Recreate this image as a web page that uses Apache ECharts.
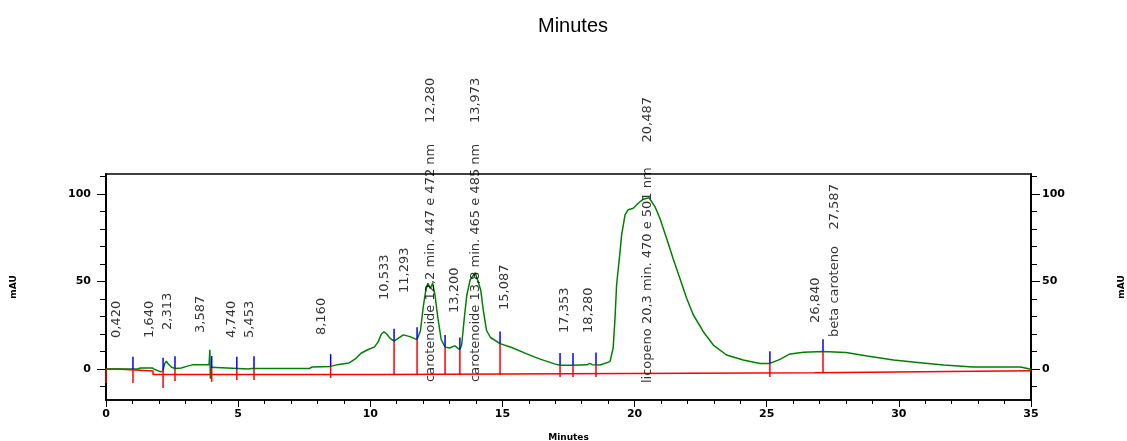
<!DOCTYPE html>
<html>
<head>
<meta charset="utf-8">
<script src="https://cdn.jsdelivr.net/npm/echarts@6/dist/echarts.min.js"></script>
<style>
  html, body { margin: 0; padding: 0; background: #fff; }
  #chart { width: 1127px; height: 441px; }
</style>
</head>
<body>
<div id="chart"></div>
<script>
// chromatogram trace (green), minutes / mAU
const traceMinutes = [
  0.00, 0.42, 1.20, 1.30, 1.75, 1.85, 2.05, 2.15, 2.22, 2.28, 2.35, 2.48, 2.62, 2.85, 3.05, 3.30,
  3.90, 3.93, 3.95, 3.97, 4.02, 5.40, 5.50, 7.70, 7.80, 8.50, 8.75, 9.20, 9.45, 9.65, 9.90, 10.15,
  10.30, 10.42, 10.52, 10.62, 10.75, 10.90, 11.05, 11.25, 11.50, 11.77, 11.90, 12.00, 12.10, 12.18,
  12.27, 12.36, 12.45, 12.55, 12.68, 12.83, 13.00, 13.20, 13.39, 13.46, 13.55, 13.65, 13.78, 13.97,
  14.08, 14.18, 14.28, 14.40, 14.55, 14.91, 15.35, 15.90, 16.40, 17.00, 17.18, 17.67, 18.20, 18.30,
  18.40, 18.69, 19.07, 19.19, 19.26, 19.32, 19.45, 19.51, 19.64, 19.76, 19.95, 20.14, 20.33, 20.55,
  20.77, 20.96, 21.21, 21.46, 21.71, 21.97, 22.22, 22.60, 22.98, 23.48, 24.11, 24.74, 25.12, 25.50,
  25.88, 26.40, 27.13, 28.00, 28.80, 29.80, 30.80, 31.70, 32.80, 34.60, 34.95, 35.00
];
const traceMAU = [
  0, 0, 0, 0.6, 0.6, -0.3, -1.5, -1.2, 3, 4.5, 3, 1, 0.3, 0.6, 1.5, 2.5,
  2.5, 11, -5.5, 1, 0, 0, 0.3, 0.3, 1.2, 1.5, 2.5, 3.5, 6, 9, 11, 12.5,
  15.5, 20, 21.3, 20, 17.5, 16, 17.5, 19.5, 18.5, 16.8, 22, 35, 45, 49,
  46, 49, 42, 30, 17, 12.5, 12, 13.2, 11, 14, 28, 42, 51, 55,
  50, 45, 33, 22, 18, 14.5, 12.3, 8.8, 5.8, 2.8, 2.2, 2.2, 2.4, 3.2,
  2.5, 2.3, 4.2, 12, 29, 48, 67, 76.6, 88, 91, 91.8, 94.7, 97, 97.8,
  92.8, 86, 74.7, 63, 52, 40.4, 31, 21.3, 13.7, 8, 5.1, 3.2, 3.2, 5.5,
  8.6, 9.6, 10, 9.4, 7.4, 5.1, 3.6, 2.3, 1.1, 1.1, 0, 0
];

// integration baseline (red)
const baselineMinutes = [0, 0, 0.42, 0.42, 1.78, 1.78, 10.37, 10.37, 26.8, 26.8, 35];
const baselineMAU = [-8, 0, 0, -1.1, -1.1, -3.2, -3.2, -2.1, -2.1, -1, -1];

// peak start/end marks: time and lower end of the red drop line
const markerMinutes = [1.02, 2.16, 2.61, 4.0, 4.95, 5.6, 8.5, 10.9, 11.77, 12.83, 13.39, 14.91, 17.18, 17.67, 18.54, 25.12, 27.13];
const markerLowMAU = [-8, -10.9, -6.9, -7.3, -6.3, -6.3, -5.1, -3.4, -3.4, -3.4, -3.4, -3.4, -4.6, -4.6, -4.6, -4.6, -2.3];

// peak annotations
const peakLabels = [
  "0,420", "1,640", "2,313", "3,587", "4,740", "5,453", "8,160", "10,533", "11,293",
  "carotenoide 12,2 min. 447 e 472 nm     12,280", "13,200",
  "carotenoide 13,8 min. 465 e 485 nm     13,973", "15,087", "17,353", "18,280",
  "licopeno 20,3 min. 470 e 501 nm      20,487", "26,840", "beta caroteno    27,587"
];
const peakMinutes = [0.420, 1.640, 2.313, 3.587, 4.740, 5.453, 8.160, 10.533, 11.293, 12.280, 13.200, 13.973, 15.087, 17.353, 18.280, 20.487, 26.840, 27.587];
const peakLabelBase = [17.7, 17.7, 22.3, 20.6, 17.7, 17.7, 19.4, 39.4, 43.4, -7.4, 32, -7.4, 33.7, 20.6, 20.6, -8, 26.3, 18.3];

const yMajorTicks = [0, 50, 100];
const yMinorTicks = [-10, 10, 20, 30, 40, 60, 70, 80, 90, 110];
const Y_MIN = -17.7, Y_MAX = 111.4;

const traceAt = (t) => {
  for (let i = 1; i < traceMinutes.length; i++) {
    if (t <= traceMinutes[i]) {
      const t0 = traceMinutes[i - 1], t1 = traceMinutes[i];
      const f = t1 === t0 ? 0 : (t - t0) / (t1 - t0);
      return traceMAU[i - 1] + f * (traceMAU[i] - traceMAU[i - 1]);
    }
  }
  return traceMAU[traceMAU.length - 1];
};

const tickFont = { fontFamily: "DejaVu Sans", fontSize: 11, fontWeight: "bold", color: "#000" };

const yAxisBase = (side, ticks, len, withLabel) => ({
  type: "value",
  position: side,
  min: Y_MIN,
  max: Y_MAX,
  splitLine: { show: false },
  axisLine: { show: true, lineStyle: { color: "#000", width: 1.5 } },
  axisTick: { show: true, customValues: ticks, length: len, lineStyle: { color: "#000", width: 1 } },
  axisLabel: withLabel
    ? Object.assign({ show: true, customValues: ticks, margin: side === "left" ? 15 : 11 }, tickFont)
    : { show: false },
  name: withLabel ? "mAU" : "",
  nameLocation: "middle",
  nameRotate: 90,
  nameGap: side === "left" ? 88 : 86,
  nameTextStyle: { fontFamily: "DejaVu Sans", fontSize: 9, fontWeight: "bold", color: "#000" },
});

const chart = echarts.init(document.getElementById("chart"), null, { renderer: "canvas" });

chart.setOption({
  animation: false,
  backgroundColor: "#fff",
  title: {
    text: "Minutes",
    left: 533,
    top: 11,
    textStyle: { fontFamily: "Liberation Sans", fontSize: 20, fontWeight: "normal", color: "#000" },
  },
  grid: {
    left: 106, right: 96, top: 174, bottom: 41,
    outerBoundsMode: "none",
    containLabel: false,
    show: true, borderColor: "#000", borderWidth: 1.5, backgroundColor: "transparent",
  },
  xAxis: {
    type: "value",
    min: 0,
    max: 35,
    interval: 5,
    splitLine: { show: false },
    axisLine: { show: true, onZero: false, lineStyle: { color: "#000", width: 1.5 } },
    axisTick: { show: true, length: 7, lineStyle: { color: "#000", width: 1 } },
    minorTick: { show: true, splitNumber: 5, length: 4, lineStyle: { color: "#000", width: 1 } },
    axisLabel: Object.assign({ margin: 9 }, tickFont),
    name: "Minutes",
    nameLocation: "middle",
    nameGap: 33,
    nameTextStyle: { fontFamily: "DejaVu Sans", fontSize: 9, fontWeight: "bold", color: "#000" },
  },
  yAxis: [
    yAxisBase("left", yMajorTicks, 9, true),
    yAxisBase("left", yMinorTicks, 6, false),
    yAxisBase("right", yMajorTicks, 9, true),
    yAxisBase("right", yMinorTicks, 6, false),
  ],
  series: [
    {
      name: "baseline",
      type: "line",
      data: baselineMinutes.map((t, i) => [t, baselineMAU[i]]),
      symbol: "none",
      lineStyle: { color: "#ff0000", width: 1.5 },
      z: 2,
    },
    {
      name: "trace",
      type: "line",
      data: traceMinutes.map((t, i) => [t, traceMAU[i]]),
      symbol: "none",
      lineStyle: { color: "#008000", width: 1.5 },
      z: 3,
    },
    {
      name: "markers",
      type: "custom",
      coordinateSystem: "cartesian2d",
      encode: { x: 0, y: 1 },
      data: markerMinutes.map((t, i) => [t, traceAt(t), markerLowMAU[i]]),
      renderItem: (params, api) => {
        const t = api.value(0), lvl = api.value(1), low = api.value(2);
        const pLvl = api.coord([t, lvl]);
        const pUp = api.coord([t, lvl + 7]);
        const pLow = api.coord([t, low]);
        return {
          type: "group",
          children: [
            { type: "line", shape: { x1: pLvl[0], y1: pUp[1], x2: pLvl[0], y2: pLvl[1] }, style: { stroke: "#0000ff", lineWidth: 1.5 } },
            { type: "line", shape: { x1: pLvl[0], y1: pLvl[1], x2: pLvl[0], y2: pLow[1] }, style: { stroke: "#ff0000", lineWidth: 1.5 } },
          ],
        };
      },
      z: 4,
    },
    {
      name: "labels",
      type: "scatter",
      data: peakMinutes.map((t, i) => [t, peakLabelBase[i], peakLabels[i]]),
      symbolSize: 0,
      silent: true,
      label: {
        show: true,
        formatter: (p) => p.data[2],
        position: "inside",
        rotate: 90,
        align: "left",
        verticalAlign: "middle",
        fontFamily: "DejaVu Sans",
        fontSize: 13,
        color: "#000",
      },
      z: 5,
    },
  ],
});
</script>
</body>
</html>
